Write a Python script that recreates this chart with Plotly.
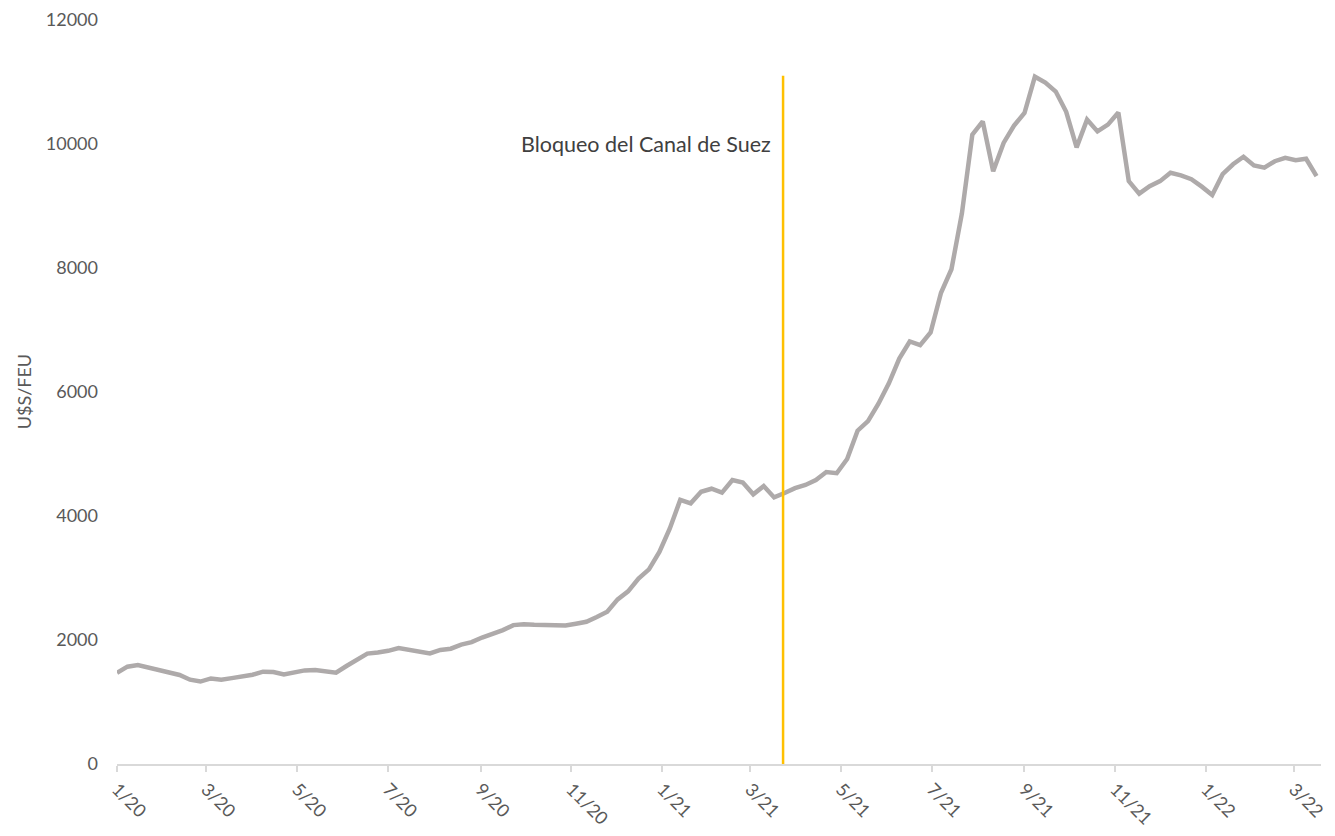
import pandas as pd
import plotly.graph_objects as go

start_date = "2020-01-02"
n_weeks = 116
dates = pd.date_range(start_date, periods=n_weeks, freq="7D")

values = [
    1471, 1570, 1596, 1560, 1520, 1470, 1436, 1360, 1330, 1380,
    1360, 1385, 1410, 1440, 1489, 1484, 1444, 1470, 1510, 1516,
    1495, 1473, 1580, 1680, 1780, 1800, 1825, 1870, 1835, 1800,
    1783, 1840, 1860, 1925, 1965, 2040, 2100, 2160, 2240, 2254,
    2245, 2240, 2233, 2233, 2262, 2294, 2371, 2455, 2655, 2785,
    2990, 3140, 3420, 3800, 4260, 4205, 4390, 4440, 4376, 4580,
    4540, 4350, 4483, 4300, 4370, 4450, 4500, 4580, 4710, 4690,
    4920, 5376, 5530, 5810, 6140, 6540, 6815, 6755, 6960, 7600,
    7980, 8880, 10150, 10364, 9561, 10018, 10296, 10500, 11085, 10990,
    10846, 10520, 9946, 10393, 10203, 10312, 10508, 9401, 9200, 9321,
    9401, 9537, 9494, 9432, 9312, 9176, 9513, 9673, 9794, 9655,
    9618, 9722, 9778, 9740, 9762, 9481,
]

tick_dates = ["2020-01-02", "2020-03-02", "2020-05-02", "2020-07-02", "2020-09-02",
              "2020-11-02", "2021-01-02", "2021-03-02", "2021-05-02", "2021-07-02",
              "2021-09-02", "2021-11-02", "2022-01-02", "2022-03-02"]
tick_labels = ["1/20", "3/20", "5/20", "7/20", "9/20", "11/20", "1/21", "3/21",
               "5/21", "7/21", "9/21", "11/21", "1/22", "3/22"]

event_date = "2021-03-24"
event_top = 11100
event_label = "Bloqueo del Canal de Suez"
event_label_y = 10000

y_ticks = [0, 2000, 4000, 6000, 8000, 10000, 12000]
y_tick_labels = [str(v) for v in y_ticks]
y_title = "U$S/FEU"

font_family = "Lato, 'Open Sans', sans-serif"
text_color = "#595959"

fig = go.Figure()
fig.add_trace(go.Scatter(
    x=dates, y=values, mode="lines",
    line=dict(color="#AEAAAA", width=4.5),
    showlegend=False, hoverinfo="x+y",
))

fig.add_shape(type="line", xref="x", yref="y",
              x0=event_date, x1=event_date, y0=0, y1=event_top,
              line=dict(color="#FFC000", width=2.5))

fig.add_annotation(x=event_date, y=event_label_y, xref="x", yref="y",
                   text=event_label, showarrow=False, xanchor="right",
                   xshift=-10, font=dict(size=21.5, color="#404040", family=font_family))

fig.add_annotation(x=-0.077, y=0.5, xref="paper", yref="paper",
                   text=y_title, showarrow=False, textangle=-90,
                   xanchor="center", yanchor="middle",
                   font=dict(size=18, color=text_color, family=font_family))

fig.update_layout(
    width=1327, height=828,
    margin=dict(l=109, r=14, t=12, b=71.5),
    paper_bgcolor="white", plot_bgcolor="white",
    font=dict(family=font_family, color=text_color, size=18),
    xaxis=dict(
        type="date", automargin=False, ticklabeloverflow="allow",
        range=["2020-01-02", "2022-03-20"],
        tickvals=tick_dates, ticktext=tick_labels,
        tickangle=45, showgrid=False, zeroline=False,
        showline=True, linecolor="#D9D9D9", linewidth=1.5,
        ticks="outside", ticklen=6, tickcolor="#D9D9D9", tickwidth=1.5,
        tickfont=dict(size=18, color=text_color),
    ),
    yaxis=dict(
        range=[0, 12000], automargin=False, ticklabeloverflow="allow",
        tickvals=y_ticks, ticktext=y_tick_labels,
        showgrid=False, zeroline=False, showline=False,
        ticks="", ticklabelstandoff=18,
        tickfont=dict(size=18, color=text_color),
    ),
)

fig.write_html("out.html")
